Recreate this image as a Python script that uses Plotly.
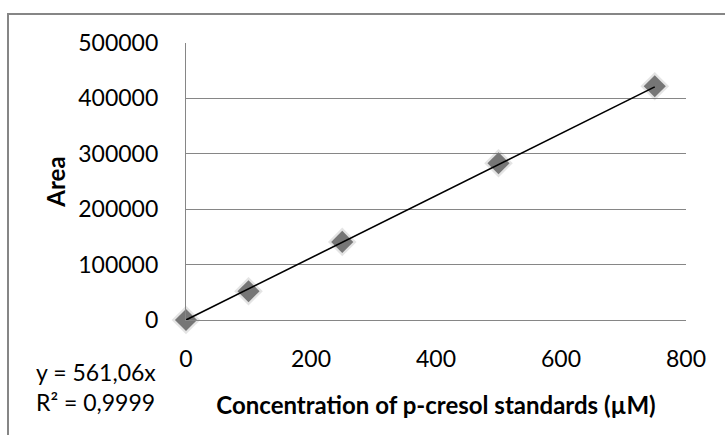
import plotly.graph_objects as go

# Data
concentration = [0, 100, 250, 500, 750]
area = [0, 52000, 141000, 283000, 422000]
slope = 561.06
r2_text = "0,9999"
slope_text = "561,06"
x_ticks = [0, 200, 400, 600, 800]
y_ticks = [0, 100000, 200000, 300000, 400000, 500000]

FONT = "Lato"
GRAY = "#868686"

W, H = 725, 435
L, R, T, B = 186, 39, 43, 115
pw, ph = W - L - R, H - T - B

def px_x(p):
    return (p - L) / pw

def px_y(p):
    return (H - B - p) / ph

fig = go.Figure()

# soft shadow-ish halo behind markers
fig.add_trace(go.Scatter(
    x=concentration, y=area, mode="markers", cliponaxis=False,
    marker=dict(symbol="diamond", size=22, color="rgba(90,90,90,0.16)", line=dict(width=0)),
    hoverinfo="skip", showlegend=False,
))
fig.add_trace(go.Scatter(
    x=concentration, y=area, mode="markers", cliponaxis=False,
    marker=dict(symbol="diamond", size=17, color="#767676", line=dict(width=0)),
    showlegend=False,
))
trend_x = [min(concentration), max(concentration)]
trend_y = [slope * v for v in trend_x]
fig.add_trace(go.Scatter(
    x=trend_x, y=trend_y, mode="lines", cliponaxis=False,
    line=dict(color="black", width=1.6),
    showlegend=False,
))

fig.update_layout(
    width=W, height=H,
    margin=dict(l=L, r=R, t=T, b=B),
    paper_bgcolor="white", plot_bgcolor="white",
    font=dict(family=FONT, size=23, color="black"),
    xaxis=dict(
        range=[0, 800], tickvals=x_ticks, ticktext=[str(v) for v in x_ticks],
        showgrid=False, zeroline=False, showline=True, linecolor=GRAY, linewidth=1.3,
        ticks="", ticklabelstandoff=18,
        title=dict(text="<b>Concentration of p-cresol standards (µM)</b>",
                   font=dict(family=FONT, size=24), standoff=26),
    ),
    yaxis=dict(
        range=[0, 500000], tickvals=y_ticks, ticktext=[str(v) for v in y_ticks],
        showgrid=True, gridcolor=GRAY, gridwidth=1.3,
        zeroline=False, showline=True, linecolor=GRAY, linewidth=1.3, ticks="",
        ticklabelstandoff=22,
        title=dict(text="<b>Area</b>", font=dict(family=FONT, size=24), standoff=5),
    ),
    shapes=[
        dict(type="rect", xref="paper", yref="paper",
             x0=px_x(8), x1=px_x(740), y0=px_y(460), y1=px_y(14),
             line=dict(color=GRAY, width=2), fillcolor="rgba(0,0,0,0)", layer="below"),
    ],
    annotations=[
        dict(xref="paper", yref="paper", x=px_x(34), y=px_y(356),
             xanchor="left", yanchor="top", align="left", showarrow=False,
             text=f"y = {slope_text}x<br>R² = {r2_text}",
             font=dict(family=FONT, size=23, color="black")),
    ],
)

fig.write_html("out.html")
